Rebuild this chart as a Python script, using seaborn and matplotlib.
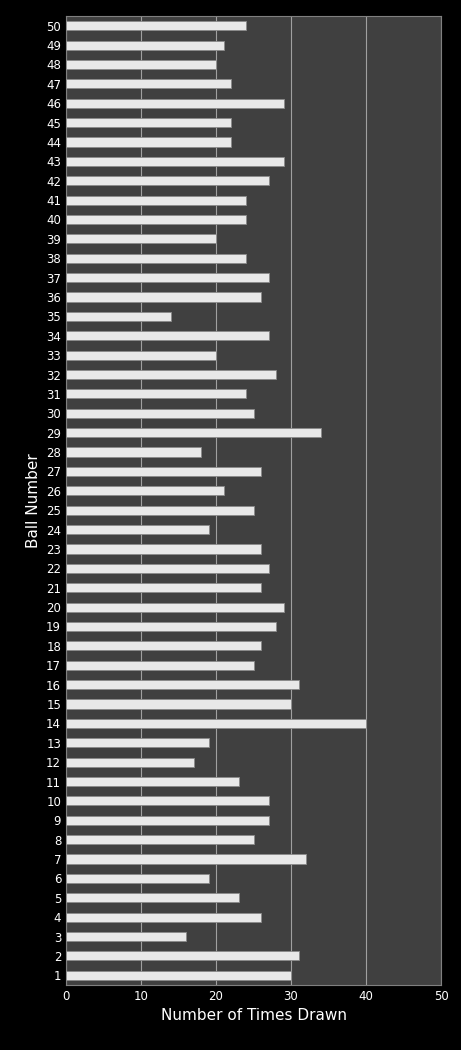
import matplotlib
matplotlib.use("Agg")
import matplotlib.pyplot as plt
import seaborn as sns
import pandas as pd

balls = list(range(1, 51))
times_drawn = [30, 31, 16, 26, 23, 19, 32, 25, 27, 27,
               23, 17, 19, 40, 30, 31, 25, 26, 28, 29,
               26, 27, 26, 19, 25, 21, 26, 18, 34, 25,
               24, 28, 20, 27, 14, 26, 27, 24, 20, 24,
               24, 27, 29, 22, 22, 29, 22, 20, 21, 24]

df = pd.DataFrame({"ball": [str(b) for b in balls], "times": times_drawn})
order = [str(b) for b in reversed(balls)]

sns.set_style("dark")
plt.rcParams["font.family"] = ["DejaVu Sans"]

fig = plt.figure(figsize=(4.61, 10.5), dpi=100, facecolor="black")
ax = fig.add_axes([66/461, 65/1050, 375/461, 969/1050])
ax.set_facecolor("#404040")

sns.barplot(data=df, x="times", y="ball", order=order, orient="h",
            color="#e8e8e8", edgecolor="#8a8a8a", linewidth=0.6,
            width=0.47, ax=ax, zorder=3)

ax.set_xlim(0, 50)
ax.set_xticks([0, 10, 20, 30, 40, 50])
ax.grid(axis="x", color="#a0a0a0", linewidth=0.8, zorder=0)
ax.grid(axis="y", visible=False)
ax.tick_params(colors="white", labelsize=8.5, length=0)
for s in ax.spines.values():
    s.set_color("#808080")
ax.set_xlabel("Number of Times Drawn", color="white", fontsize=11)
ax.set_ylabel("Ball Number", color="white", fontsize=11)

fig.savefig("out.png", dpi=100, facecolor="black")
